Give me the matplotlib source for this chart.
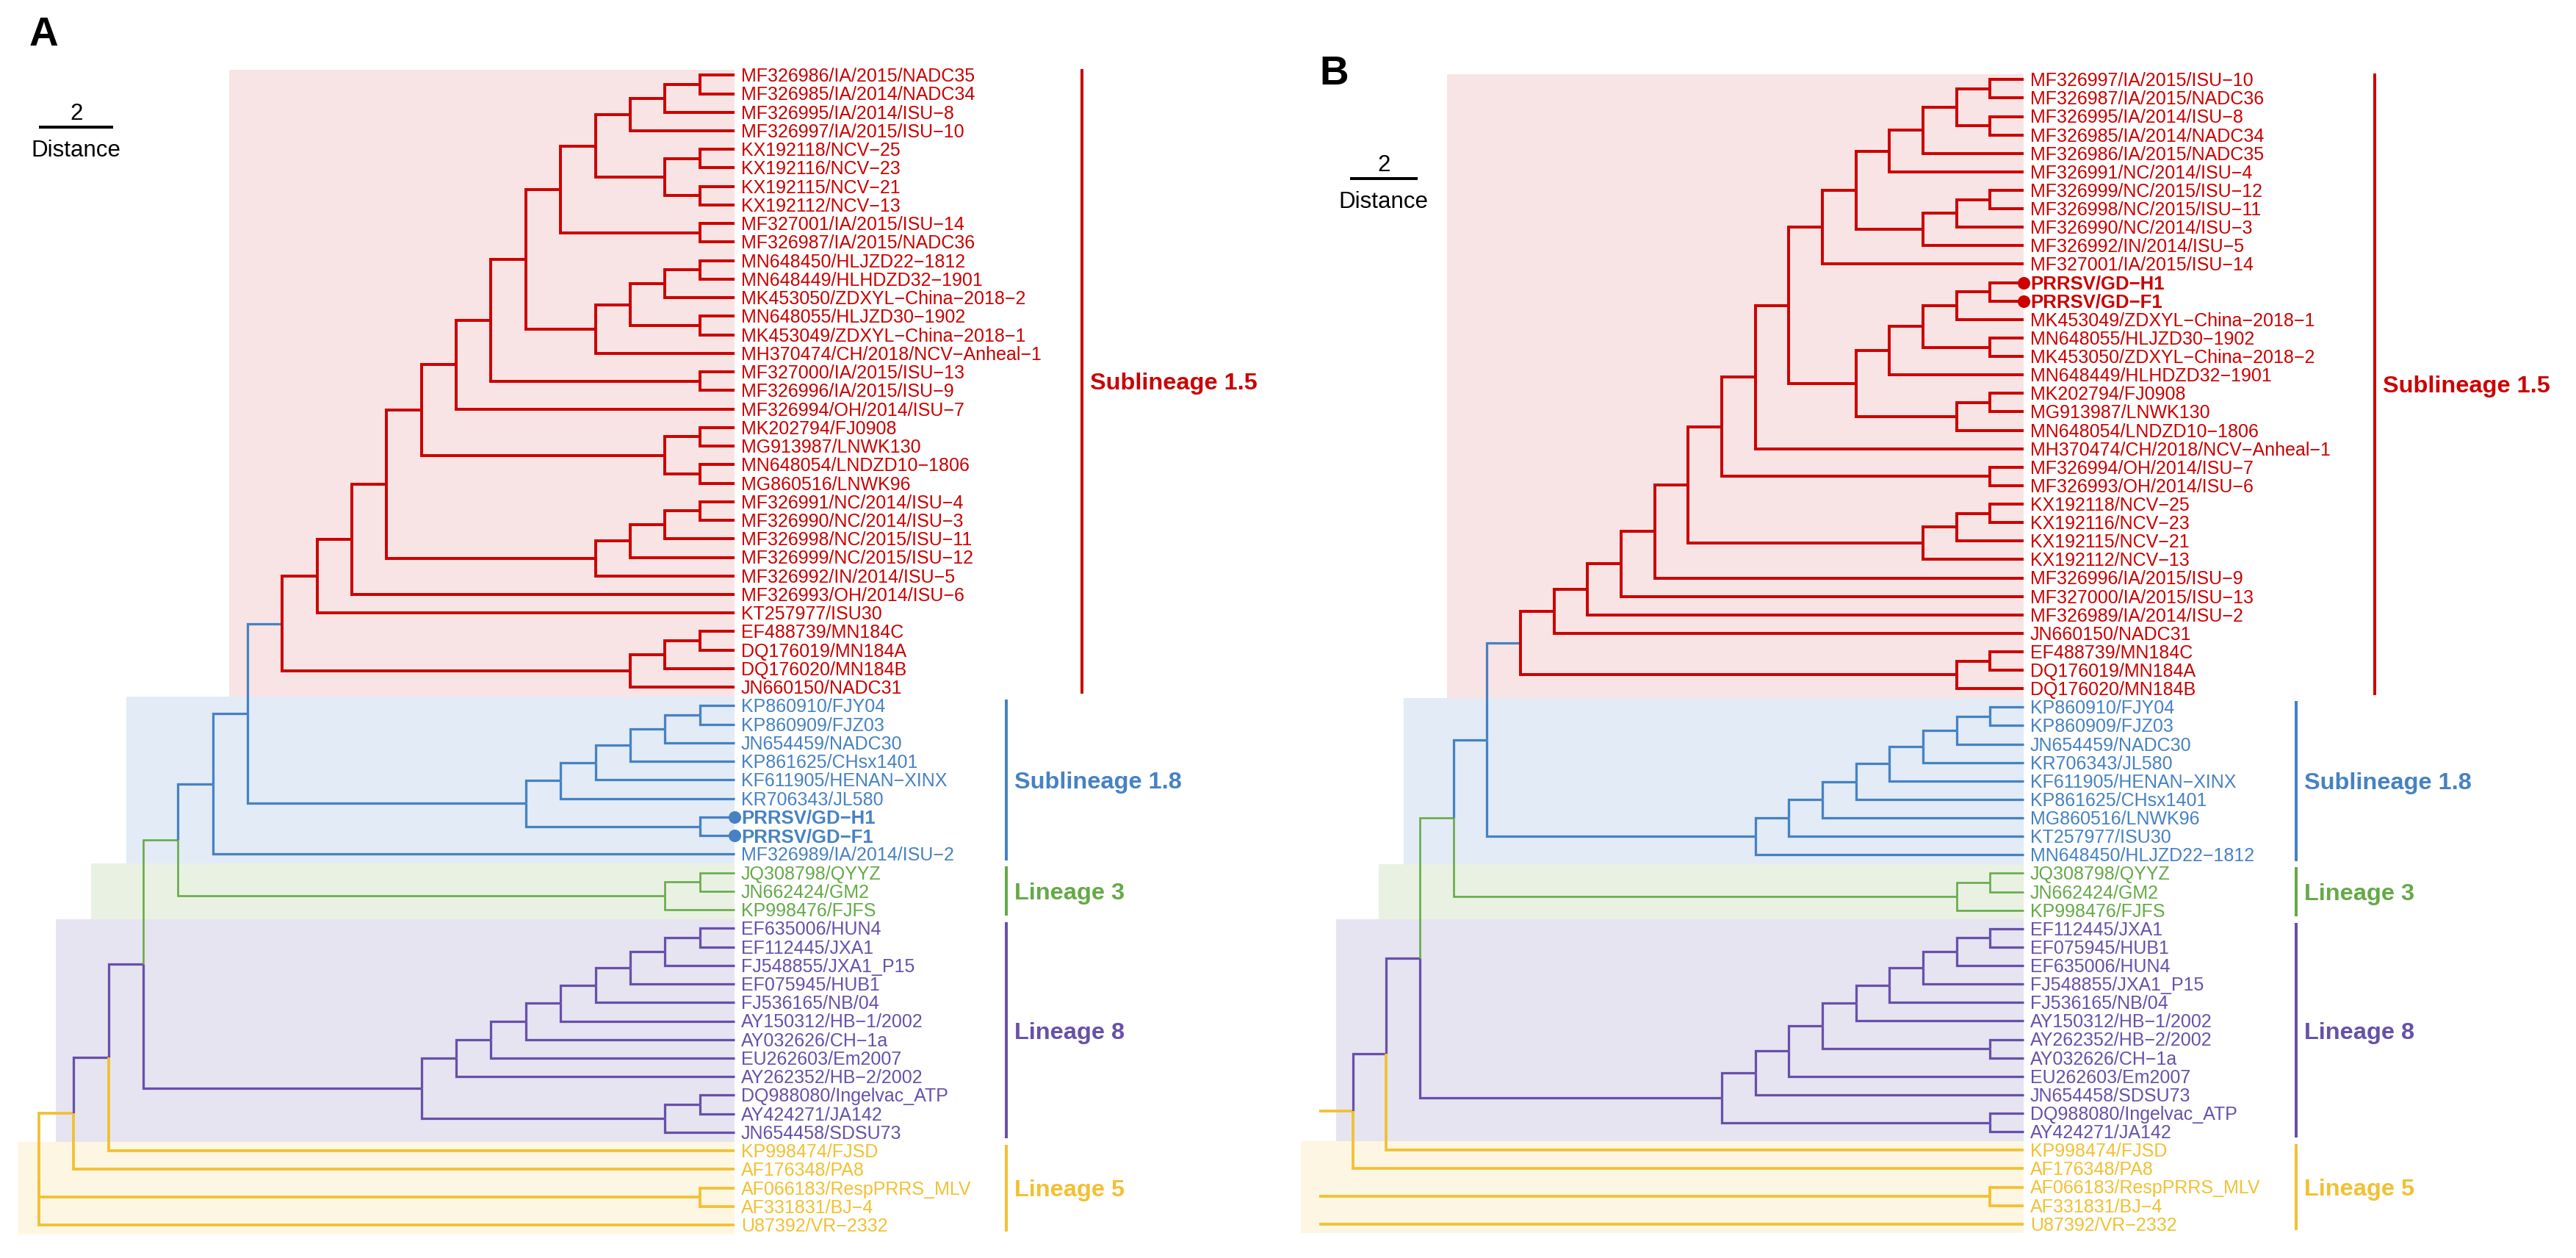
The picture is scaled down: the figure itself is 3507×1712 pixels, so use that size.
import matplotlib
matplotlib.use("Agg")
import matplotlib.pyplot as plt
from matplotlib.collections import LineCollection
from matplotlib.patches import Rectangle
from matplotlib.transforms import offset_copy

plt.rcParams['font.family'] = ['Liberation Sans', 'DejaVu Sans']

# group colours (line / text) and highlight fills
COLORS = {"r": "#CC0000", "b": "#4682C3", "g": "#64AA46", "p": "#6850AA", "y": "#F2C032"}
FILLS = {"r": "#F8E4E4", "b": "#E2EBF6", "g": "#E9F1E3", "p": "#E6E4F1", "y": "#FDF6E2"}
WIDTHS = {"r": 0.95, "b": 0.78, "g": 0.62, "p": 0.78, "y": 0.9}

CLADE_KEYS = ["r", "b", "g", "p", "y"]
CLADE_NAMES = ["Sublineage 1.5", "Sublineage 1.8", "Lineage 3", "Lineage 8", "Lineage 5"]
STUDY_TIPS = ["PRRSV/GD-H1", "PRRSV/GD-F1"]

# ---------------- panel A tree (newick pieces, internal labels = group key) ----------------
A_15_TOP = ("(((((MF326986/IA/2015/NADC35,MF326985/IA/2014/NADC34)r,MF326995/IA/2014/ISU-8)r,"
            "MF326997/IA/2015/ISU-10)r,((KX192118/NCV-25,KX192116/NCV-23)r,(KX192115/NCV-21,KX192112/NCV-13)r)r)r,"
            "(MF327001/IA/2015/ISU-14,MF326987/IA/2015/NADC36)r)r")
A_15_CHN = ("((((MN648450/HLJZD22-1812,MN648449/HLHDZD32-1901)r,MK453050/ZDXYL-China-2018-2)r,"
            "(MN648055/HLJZD30-1902,MK453049/ZDXYL-China-2018-1)r)r,MH370474/CH/2018/NCV-Anheal-1)r")
A_15_LN = "((MK202794/FJ0908,MG913987/LNWK130)r,(MN648054/LNDZD10-1806,MG860516/LNWK96)r)r"
A_15_NC = ("((((MF326991/NC/2014/ISU-4,MF326990/NC/2014/ISU-3)r,MF326998/NC/2015/ISU-11)r,"
           "MF326999/NC/2015/ISU-12)r,MF326992/IN/2014/ISU-5)r")
A_15_MN = "(((EF488739/MN184C,DQ176019/MN184A)r,DQ176020/MN184B)r,JN660150/NADC31)r"
A_18 = ("((((((KP860910/FJY04,KP860909/FJZ03)b,JN654459/NADC30)b,KP861625/CHsx1401)b,"
        "KF611905/HENAN-XINX)b,KR706343/JL580)b,(PRRSV/GD-H1,PRRSV/GD-F1)b)b")
A_L3 = "((JQ308798/QYYZ,JN662424/GM2)g,KP998476/FJFS)g"
A_L8 = ("(((((((((EF635006/HUN4,EF112445/JXA1)p,FJ548855/JXA1_P15)p,EF075945/HUB1)p,FJ536165/NB/04)p,"
        "AY150312/HB-1/2002)p,AY032626/CH-1a)p,EU262603/Em2007)p,AY262352/HB-2/2002)p,"
        "((DQ988080/Ingelvac_ATP,AY424271/JA142)p,JN654458/SDSU73)p)p")
A_SPINE = [
    (A_15_CHN, "r"),
    ("(MF327000/IA/2015/ISU-13,MF326996/IA/2015/ISU-9)r", "r"),
    ("MF326994/OH/2014/ISU-7", "r"),
    (A_15_LN, "r"),
    (A_15_NC, "r"),
    ("MF326993/OH/2014/ISU-6", "r"),
    ("KT257977/ISU30", "r"),
    (A_15_MN, "b"),
    (A_18, "b"),
    ("MF326989/IA/2014/ISU-2", "b"),
    (A_L3, "g"),
    (A_L8, "p"),
    ("KP998474/FJSD", "p"),
    ("AF176348/PA8", "y"),
    ("(AF066183/RespPRRS_MLV,AF331831/BJ-4)y,U87392/VR-2332", "y"),
]
A_CLADE_SIZES = [34, 9, 3, 12, 5]
A_HILIGHT_LEFT = [14.52, 17.48, 18.5, 19.5, 20.6]   # in branch steps from tips

# ---------------- panel B tree ----------------
B_15_TOP = ("(((((MF326997/IA/2015/ISU-10,MF326987/IA/2015/NADC36)r,(MF326995/IA/2014/ISU-8,"
            "MF326985/IA/2014/NADC34)r)r,MF326986/IA/2015/NADC35)r,MF326991/NC/2014/ISU-4)r,"
            "(((MF326999/NC/2015/ISU-12,MF326998/NC/2015/ISU-11)r,MF326990/NC/2014/ISU-3)r,"
            "MF326992/IN/2014/ISU-5)r)r")
B_15_CHN = ("(((((PRRSV/GD-H1,PRRSV/GD-F1)r,MK453049/ZDXYL-China-2018-1)r,(MN648055/HLJZD30-1902,"
            "MK453050/ZDXYL-China-2018-2)r)r,MN648449/HLHDZD32-1901)r,((MK202794/FJ0908,"
            "MG913987/LNWK130)r,MN648054/LNDZD10-1806)r)r")
B_NCV = "(((KX192118/NCV-25,KX192116/NCV-23)r,KX192115/NCV-21)r,KX192112/NCV-13)r"
B_MN = "((EF488739/MN184C,DQ176019/MN184A)r,DQ176020/MN184B)r"
B_18 = ("((((((((KP860910/FJY04,KP860909/FJZ03)b,JN654459/NADC30)b,KR706343/JL580)b,"
        "KF611905/HENAN-XINX)b,KP861625/CHsx1401)b,MG860516/LNWK96)b,KT257977/ISU30)b,"
        "MN648450/HLJZD22-1812)b")
B_L3 = "((JQ308798/QYYZ,JN662424/GM2)g,KP998476/FJFS)g"
B_L8 = ("(((((((((EF112445/JXA1,EF075945/HUB1)p,EF635006/HUN4)p,FJ548855/JXA1_P15)p,FJ536165/NB/04)p,"
        "AY150312/HB-1/2002)p,(AY262352/HB-2/2002,AY032626/CH-1a)p)p,EU262603/Em2007)p,"
        "JN654458/SDSU73)p,(DQ988080/Ingelvac_ATP,AY424271/JA142)p)p")
B_SPINE = [
    ("MF327001/IA/2015/ISU-14", "r"),
    (B_15_CHN, "r"),
    ("MH370474/CH/2018/NCV-Anheal-1", "r"),
    ("(MF326994/OH/2014/ISU-7,MF326993/OH/2014/ISU-6)r", "r"),
    (B_NCV, "r"),
    ("MF326996/IA/2015/ISU-9", "r"),
    ("MF327000/IA/2015/ISU-13", "r"),
    ("MF326989/IA/2014/ISU-2", "r"),
    ("JN660150/NADC31", "r"),
    (B_MN, "b"),
    (B_18, "b"),
    (B_L3, "g"),
    (B_L8, "p"),
    ("KP998474/FJSD", "p"),
    ("AF176348/PA8", "y"),
    ("(AF066183/RespPRRS_MLV,AF331831/BJ-4)y,U87392/VR-2332", "y"),
]
B_CLADE_SIZES = [34, 9, 3, 12, 5]
B_HILIGHT_LEFT = [17.18, 18.48, 19.23, 20.49, 21.54]

W, H, DPI = 3507, 1712, 300


def build(seed, steps):
    s = seed
    for sib, key in steps:
        s = f"({s},{sib}){key}"
    return s


def parse(s):
    pos = 0

    def read_label():
        nonlocal pos
        start = pos
        while pos < len(s) and s[pos] not in ",()":
            pos += 1
        return s[start:pos]

    def node():
        nonlocal pos
        if s[pos] == "(":
            pos += 1
            kids = [node()]
            while s[pos] == ",":
                pos += 1
                kids.append(node())
            pos += 1
            return {"key": read_label(), "kids": kids}
        return {"name": read_label(), "kids": []}

    return node()


def layout(n, tips):
    if not n["kids"]:
        tips.append(n)
        n["y"], n["h"] = len(tips), 0
    else:
        for k in n["kids"]:
            layout(k, tips)
        n["y"] = sum(k["y"] for k in n["kids"]) / len(n["kids"])
        n["h"] = max(k["h"] for k in n["kids"]) + 1
    n["x"] = -n["h"]


def collect(n, segs, cols, lws, root_vertical, is_root=True):
    for k in n["kids"]:
        key = k["key"]
        if is_root and not root_vertical:
            pts = [(n["x"], k["y"]), (k["x"], k["y"])]
        else:
            pts = [(n["x"], n["y"]), (n["x"], k["y"]), (k["x"], k["y"])]
        segs.append(pts)
        cols.append(COLORS[key])
        lws.append(WIDTHS[key])
        collect(k, segs, cols, lws, root_vertical, False)


def draw_panel(fig, left_px, width_px, tip_px, step_px, y1_px, ystep_px, tree_str, sizes,
               hl_left, br_x, scale, root_vertical, letter, letter_xy):
    ax = fig.add_axes([left_px / W, 0, width_px / W, 1])
    ax.set_xlim((left_px - tip_px) / step_px, (left_px + width_px - tip_px) / step_px)
    ax.set_ylim(1 + (H - y1_px) / ystep_px, 1 - y1_px / ystep_px)
    ax.axis("off")

    tree = parse(tree_str)
    tips = []
    layout(tree, tips)

    # tip groups from clade sizes
    first = 1
    spans = []
    for key, size in zip(CLADE_KEYS, sizes):
        spans.append((key, first, first + size - 1))
        for t in tips[first - 1:first + size - 1]:
            t["key"] = key
        first += size

    # highlight boxes
    for (key, a, b), hl in zip(spans, hl_left):
        top = a - (0.3 if a == 1 else 0.5)
        ax.add_patch(Rectangle((-hl, top), hl, b + 0.5 - top, facecolor=FILLS[key],
                               edgecolor="none", zorder=0))

    segs, cols, lws = [], [], []
    collect(tree, segs, cols, lws, root_vertical)
    ax.add_collection(LineCollection(segs, colors=cols, linewidths=lws, capstyle="butt",
                                     joinstyle="miter", zorder=2))

    # tip labels
    cap6 = 0.716 * 6 * DPI / 72
    lab_tr = offset_copy(ax.transData, fig=fig, x=9, y=-cap6 / 2, units="dots")
    for t in tips:
        bold = t["name"] in STUDY_TIPS
        ax.text(0, t["y"], t["name"].replace("-", "\u2212"), transform=lab_tr, ha="left",
                va="baseline", fontsize=6.2 if bold else 6, color=COLORS[t["key"]],
                fontweight="bold" if bold else "normal", zorder=3)
        if bold:
            ax.plot(0, t["y"], "o", ms=4.1, color=COLORS[t["key"]], mec="none", zorder=4)

    # clade bars and names
    cap_c = 0.716 * 7.8 * DPI / 72
    name_tr = offset_copy(ax.transData, fig=fig, x=11, y=-cap_c / 2, units="dots")
    for (key, a, b), name, bx in zip(spans, CLADE_NAMES, br_x):
        ax.plot([bx, bx], [a - 0.33, b + 0.33], color=COLORS[key], lw=0.96,
                solid_capstyle="butt", zorder=2)
        ax.text(bx, (a + b) / 2, name, transform=name_tr, ha="left", va="baseline",
                fontsize=7.8, fontweight="bold", color=COLORS[key])

    # scale bar
    sx, sy, slen = scale
    ax.plot([sx, sx + slen], [sy, sy], color="black", lw=0.96, solid_capstyle="butt")
    up = offset_copy(ax.transData, fig=fig, x=0, y=10, units="dots")
    down = offset_copy(ax.transData, fig=fig, x=0, y=-40, units="dots")
    ax.text(sx + slen / 2, sy, "2", transform=up, ha="center", va="baseline", fontsize=7.5)
    ax.text(sx + slen / 2, sy, "Distance", transform=down, ha="center", va="baseline",
            fontsize=7.5)

    fig.text(letter_xy[0] / W, 1 - letter_xy[1] / H, letter, ha="center", va="baseline",
             fontsize=13.2, fontweight="bold")


fig = plt.figure(figsize=(W / DPI, H / DPI), dpi=DPI)

draw_panel(fig, 0, 1750, 1000, 47.36, 102.3, 25.24, build(A_15_TOP, A_SPINE), A_CLADE_SIZES,
           A_HILIGHT_LEFT, [9.99, 7.81, 7.81, 7.81, 7.81], (-19.99, 3.81, 2.13), True,
           "A", (59, 62))
draw_panel(fig, 1750, 1757, 2755, 45.67, 108.3, 25.12, build(B_15_TOP, B_SPINE), B_CLADE_SIZES,
           B_HILIGHT_LEFT, [10.46, 8.12, 8.12, 8.12, 8.12], (-20.08, 6.35, 2.01), False,
           "B", (1816, 115))

fig.savefig("out.png", dpi=DPI)
